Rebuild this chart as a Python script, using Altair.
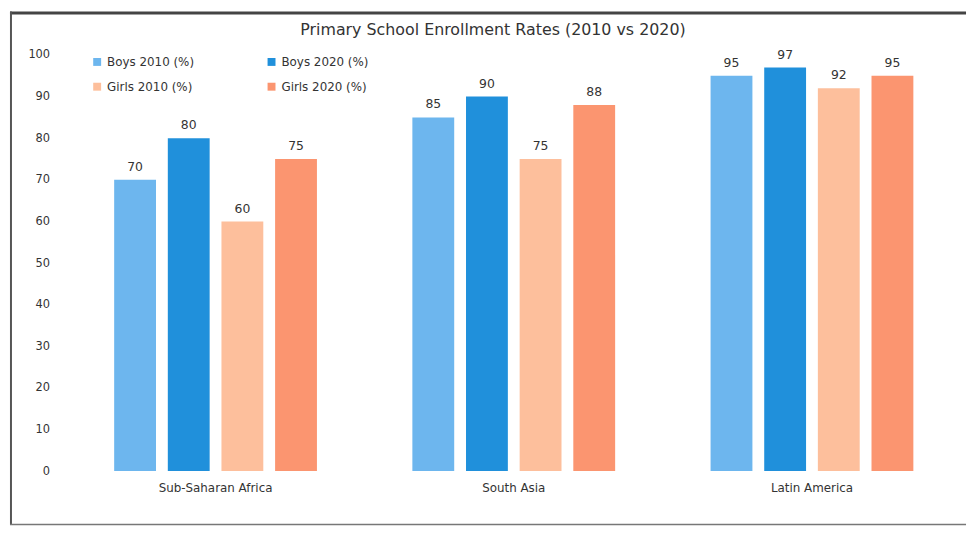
import altair as alt
import pandas as pd

title_text = "Primary School Enrollment Rates (2010 vs 2020)"
regions = ["Sub-Saharan Africa", "South Asia", "Latin America"]
series = ["Boys 2010 (%)", "Boys 2020 (%)", "Girls 2010 (%)", "Girls 2020 (%)"]
boys_2010 = [70, 85, 95]
boys_2020 = [80, 90, 97]
girls_2010 = [60, 75, 92]
girls_2020 = [75, 88, 95]
colors = ["#6db6ee", "#2090db", "#fdbf9c", "#fb9570"]
y_ticks = [0, 10, 20, 30, 40, 50, 60, 70, 80, 90, 100]

rows = []
for s, vals in zip(series, [boys_2010, boys_2020, girls_2010, girls_2020]):
    for r, v in zip(regions, vals):
        rows.append({"Region": r, "Series": s, "Value": v})
df = pd.DataFrame(rows)

FONT = "DejaVu Sans"
W, H = 903, 420

x_enc = alt.X("Region:N", sort=regions,
              scale=alt.Scale(paddingInner=0.32, paddingOuter=0.16),
              axis=alt.Axis(title=None, labelAngle=0, domain=False, ticks=False,
                            labelPadding=12, labelFontSize=12, labelColor="#333333",
                            labelFont=FONT))
xoff = alt.XOffset("Series:N", sort=series, scale=alt.Scale(paddingInner=0.22))
y_enc = alt.Y("Value:Q", scale=alt.Scale(domain=[0, 100]),
              axis=alt.Axis(title=None, values=y_ticks, domain=False, ticks=False,
                            grid=False, labelPadding=17, labelFontSize=11.5,
                            labelColor="#333333", labelFont=FONT))

bars = alt.Chart(df).mark_bar().encode(
    x=x_enc, xOffset=xoff, y=y_enc,
    color=alt.Color("Series:N", sort=series,
                    scale=alt.Scale(domain=series, range=colors),
                    legend=alt.Legend(title=None, orient="none", legendX=25, legendY=1,
                                      columns=2, direction="horizontal",
                                      columnPadding=72, rowPadding=13,
                                      symbolType="square", symbolSize=64,
                                      labelFontSize=12, labelColor="#333333",
                                      labelFont=FONT, symbolStrokeWidth=0))
)

labels = alt.Chart(df).mark_text(baseline="bottom", dy=-6, fontSize=12.5,
                                 font=FONT, color="#333333").encode(
    x=alt.X("Region:N", sort=regions), xOffset=alt.XOffset("Series:N", sort=series),
    y="Value:Q", text="Value:Q"
)

frame_df = pd.DataFrame({"t": [title_text]})
title_mark = alt.Chart(frame_df).mark_text(
    fontSize=16, font=FONT, color="#333333", align="center", baseline="middle"
).encode(x=alt.value(W / 2 - 21), y=alt.value(-25), text="t:N")
top_line = alt.Chart(frame_df).mark_rule(color="#444444", strokeWidth=3).encode(
    x=alt.value(-57), x2=alt.value(W + 5), y=alt.value(-42.5))
left_line = alt.Chart(frame_df).mark_rule(color="#555555", strokeWidth=2).encode(
    x=alt.value(-56), y=alt.value(-44), y2=alt.value(474))
bottom_line = alt.Chart(frame_df).mark_rule(color="#777777", strokeWidth=1.5).encode(
    x=alt.value(-57), x2=alt.value(W + 5), y=alt.value(474))

chart = alt.layer(bars, labels, title_mark, top_line, left_line, bottom_line).properties(
    width=W, height=H,
    autosize=alt.AutoSizeParams(type="pad"),
    padding=0,
).configure(background="white", view=alt.ViewConfig(strokeWidth=0, stroke=None))

chart.save("out.html", embed_options={"renderer": "svg", "actions": False})
